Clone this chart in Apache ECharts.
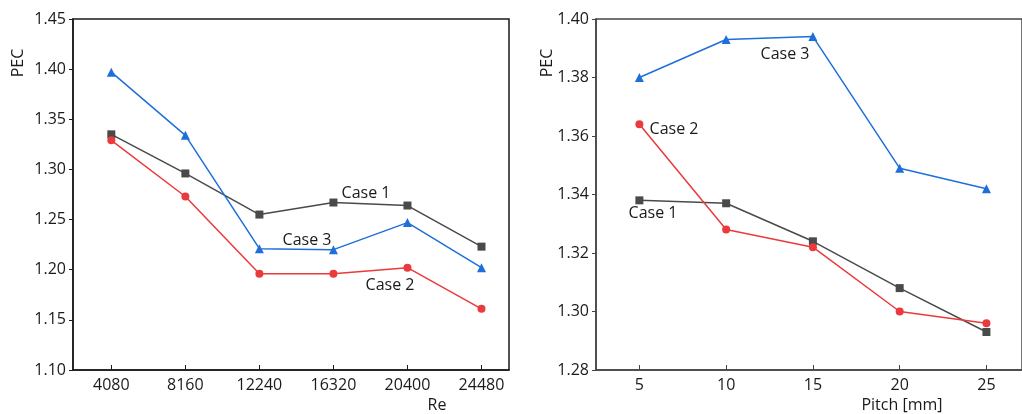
<!DOCTYPE html>
<html>
<head>
<meta charset="utf-8">
<script src="https://cdn.jsdelivr.net/npm/echarts@6/dist/echarts.min.js"></script>
<style>
  html, body { margin: 0; padding: 0; background: #fff; }
  #chart { width: 1022px; height: 414px; }
</style>
</head>
<body>
<div id="chart"></div>
<script>
// left panel: PEC vs Re
const reValues = [4080, 8160, 12240, 16320, 20400, 24480]
const reCase1 = [1.335, 1.296, 1.255, 1.267, 1.264, 1.223]
const reCase2 = [1.329, 1.273, 1.196, 1.196, 1.202, 1.161]
const reCase3 = [1.397, 1.334, 1.221, 1.220, 1.247, 1.202]

// right panel: PEC vs pitch
const pitchValues = [5, 10, 15, 20, 25]
const pitchCase1 = [1.338, 1.337, 1.324, 1.308, 1.293]
const pitchCase2 = [1.364, 1.328, 1.322, 1.300, 1.296]
const pitchCase3 = [1.380, 1.393, 1.394, 1.349, 1.342]

const FONT = 'Open Sans'
const FS = 16
const TXT = '#1a1a1a'
const C1 = '#4a4a4a'
const C2 = '#ea3a3c'
const C3 = '#1f6fdb'

let chart = echarts.init(document.getElementById('chart'), null, { renderer: 'canvas' })

function pairs(xs, ys) {
  return xs.map((x, i) => [x, ys[i]])
}

function xAxisOf(idx, min, max, ticks, color) {
  return {
    type: 'value',
    gridIndex: idx,
    min: min,
    max: max,
    splitLine: { show: false },
    axisLine: { show: true, onZero: false, lineStyle: { color: color, width: 1.5 } },
    axisTick: { show: true, inside: true, length: 5, customValues: ticks, lineStyle: { color: color, width: 1 } },
    axisLabel: {
      customValues: ticks, color: TXT, fontSize: FS, fontFamily: FONT, margin: 7,
      formatter: v => String(v)
    }
  }
}

function yAxisOf(idx, min, max, step, color) {
  return {
    type: 'value',
    gridIndex: idx,
    min: min,
    max: max,
    interval: step,
    splitLine: { show: false },
    axisLine: { show: true, lineStyle: { color: color, width: 1.5 } },
    axisTick: { show: true, inside: false, length: 4, lineStyle: { color: color, width: 1 } },
    axisLabel: {
      color: TXT, fontSize: FS, fontFamily: FONT, margin: 7,
      formatter: v => v.toFixed(2)
    }
  }
}

function line(idx, data, color, symbol, size) {
  return {
    type: 'line',
    xAxisIndex: idx,
    yAxisIndex: idx,
    data: data,
    symbol: symbol,
    symbolSize: size,
    showSymbol: true,
    lineStyle: { color: color, width: 1.5 },
    itemStyle: { color: color },
    silent: true,
    animation: false
  }
}

function txt(x, y, s, rot) {
  return {
    type: 'text',
    x: x,
    y: y,
    rotation: rot || 0,
    style: {
      text: s, fill: TXT, fontSize: FS, fontFamily: FONT,
      align: 'center', verticalAlign: 'middle'
    },
    silent: true
  }
}

let option = {
  backgroundColor: '#fff',
  animation: false,
  grid: [
    { left: 73, top: 19, width: 436, height: 351, show: true, borderColor: '#1a1a1a', borderWidth: 1.5, backgroundColor: 'transparent' },
    { left: 596, top: 19, width: 428, height: 351, show: true, borderColor: '#444', borderWidth: 1.5, backgroundColor: 'transparent' }
  ],
  xAxis: [
    xAxisOf(0, 1968, 25996, reValues, '#1a1a1a'),
    xAxisOf(1, 2.5, 27.05, pitchValues, '#444')
  ],
  yAxis: [
    yAxisOf(0, 1.10, 1.45, 0.05, '#1a1a1a'),
    yAxisOf(1, 1.28, 1.40, 0.02, '#444')
  ],
  series: [
    line(0, pairs(reValues, reCase1), C1, 'rect', 8),
    line(0, pairs(reValues, reCase2), C2, 'circle', 8),
    line(0, pairs(reValues, reCase3), C3, 'triangle', 9),
    line(1, pairs(pitchValues, pitchCase1), C1, 'rect', 8),
    line(1, pairs(pitchValues, pitchCase2), C2, 'circle', 8),
    line(1, pairs(pitchValues, pitchCase3), C3, 'triangle', 9)
  ],
  graphic: [
    // axis titles
    txt(18, 63, 'PEC', Math.PI / 2),
    txt(547, 63, 'PEC', Math.PI / 2),
    txt(437, 405, 'Re'),
    txt(902, 405, 'Pitch [mm]'),
    // series labels
    txt(366, 193, 'Case 1'),
    txt(307, 240, 'Case 3'),
    txt(390, 285, 'Case 2'),
    txt(785, 54, 'Case 3'),
    txt(674, 129, 'Case 2'),
    txt(653, 213, 'Case 1')
  ]
}

chart.setOption(option)
</script>
</body>
</html>
